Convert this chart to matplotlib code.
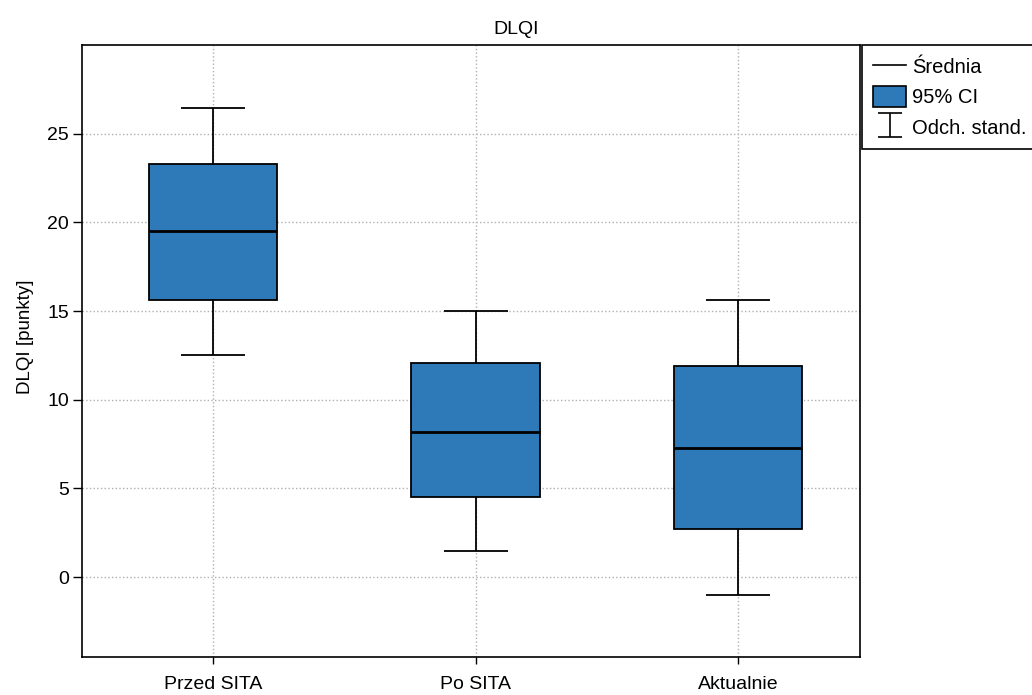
import numpy as np
import matplotlib.pyplot as plt
from matplotlib.patches import Patch
from matplotlib.lines import Line2D
from matplotlib.legend_handler import HandlerErrorbar

groups = ['Przed SITA', 'Po SITA', 'Aktualnie']
means = [19.5, 8.2, 7.3]
ci_low = [15.65, 4.5, 2.7]
ci_high = [23.3, 12.05, 11.9]
sd_low = [12.5, 1.45, -1.0]
sd_high = [26.45, 15.0, 15.65]

box_color = '#2E7AB8'
x = np.arange(1, len(groups) + 1)
means = np.array(means)

plt.rcParams['font.family'] = ['Liberation Sans', 'DejaVu Sans']
plt.rcParams['font.size'] = 14

fig = plt.figure(figsize=(10.32, 6.95), dpi=100)
ax = fig.add_axes([82/1032, 1 - 657/695, (860-82)/1032, (657-45)/695])

# odchylenie standardowe (wasy)
yerr = [means - np.array(sd_low), np.array(sd_high) - means]
ax.errorbar(x, means, yerr=yerr, fmt='none', ecolor='black', elinewidth=1.3,
            capsize=23, capthick=1.3, zorder=2)

# 95% CI (pudelka)
lo = np.array(ci_low)
hi = np.array(ci_high)
ax.bar(x, hi - lo, bottom=lo, width=0.49, color=box_color, edgecolor='black',
       linewidth=1.3, zorder=3)

# srednia
ax.hlines(means, x - 0.245, x + 0.245, colors='black', linewidth=2, zorder=4)

ax.set_xlim(0.5, 3.465)
ax.set_ylim(-4.5, 30)
ax.set_xticks(x)
ax.set_xticklabels(groups, fontsize=14)
ax.set_yticks([0, 5, 10, 15, 20, 25])
ax.tick_params(axis='y', labelsize=14, length=6.5, width=1, pad=3)
ax.tick_params(axis='x', length=5, width=1, pad=9)
ax.grid(True, linestyle=':', color='#b0b0b0', linewidth=1, zorder=0)
ax.set_axisbelow(True)
for s in ax.spines.values():
    s.set_linewidth(1.2)

# tytul wysrodkowany na calej figurze
fig.text(0.5, 1 - 30/695, 'DLQI', ha='center', va='center', fontsize=14)
ax.set_ylabel('DLQI [punkty]', fontsize=13.5)
ax.yaxis.set_label_coords(-0.062, 0.523)

eb = ax.errorbar([np.nan], [np.nan], yerr=[1], fmt='none', ecolor='black',
                 capsize=8.6, elinewidth=1.2, capthick=1.2)
handles = [
    Line2D([], [], color='black', linewidth=1.2),
    Patch(facecolor=box_color, edgecolor='black', linewidth=1.2),
    eb,
]
leg = ax.legend(handles, ['Średnia', '95% CI', 'Odch. stand.'],
                loc='upper left', bbox_to_anchor=(1.003, 1.0),
                fancybox=False, edgecolor='black', framealpha=1,
                fontsize=14.5, borderaxespad=0, handlelength=1.6,
                handleheight=1.2, handletextpad=0.3, labelspacing=0.45,
                borderpad=0.55,
                handler_map={type(eb): HandlerErrorbar(yerr_size=0.6)})
leg.get_frame().set_linewidth(1.2)

fig.savefig('out.png', dpi=100)
